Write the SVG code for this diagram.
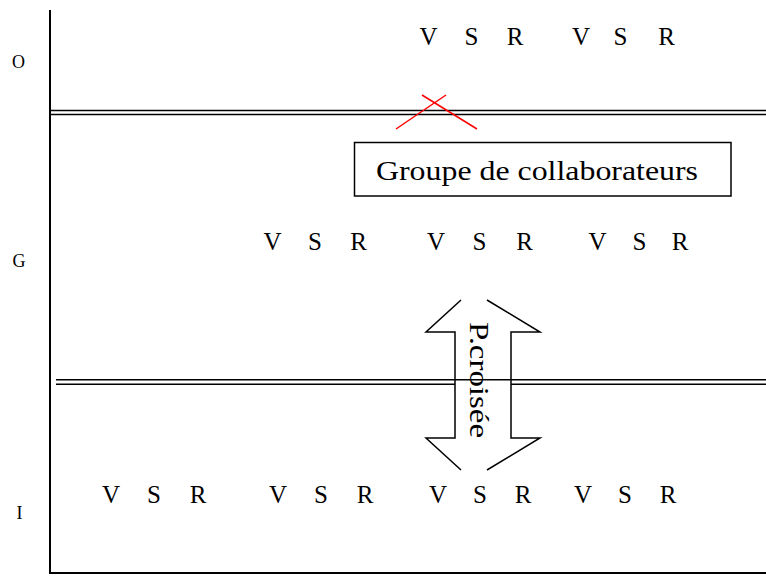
<svg xmlns="http://www.w3.org/2000/svg" width="766" height="576" viewBox="0 0 766 576">
<style>
.ln{stroke:#000;stroke-width:1.5;fill:none}
.ax{stroke:#000;stroke-width:2;fill:none}
.t{font-family:"Liberation Serif","Times New Roman",serif;fill:#000}
.vsr{font-size:25px;text-anchor:middle}
.lvl{font-size:18px;text-anchor:middle}
.big{font-size:28px}
</style>
<rect width="766" height="576" fill="#fff"/>
<g id="connectors">
<path class="ax" d="M50,10 V573 H766"/>
<path class="ln" d="M50,110.5 H766 M50,114.5 H766"/>
<path class="ln" d="M56,379.8 H766 M56,384.3 H455 M511,384.3 H766"/>
<path d="M396,129 L446,95 M422,95 L477,129" stroke="#ff0000" stroke-width="1.5" fill="none"/>
</g>
<g id="levels" class="t lvl">
<text x="18.5" y="68">O</text>
<text x="19" y="267">G</text>
<text x="19.5" y="519">I</text>
</g>
<g id="box">
<rect x="354.5" y="142.5" width="376.5" height="53.5" class="ln"/>
<text class="t big" x="376" y="180" textLength="322" lengthAdjust="spacingAndGlyphs">Groupe de collaborateurs</text>
</g>
<g id="arrow">
<path class="ln" d="M461,300 L426,332 H455 V438 H426 L461,470 M487,300 L540,332 H511 V438 H540 L487,470"/>
<text class="t big" transform="translate(470,322) rotate(90)" x="0" y="0" textLength="116" lengthAdjust="spacingAndGlyphs">P.croisée</text>
</g>
<g id="row-top" class="t vsr">
<text x="428.5" y="45">V</text><text x="471.5" y="45">S</text><text x="515" y="45">R</text>
<text x="581" y="45">V</text><text x="620.5" y="45">S</text><text x="666.5" y="45">R</text>
</g>
<g id="row-mid" class="t vsr">
<text x="272.5" y="250">V</text><text x="315" y="250">S</text><text x="358.5" y="250">R</text>
<text x="436" y="250">V</text><text x="479.5" y="250">S</text><text x="524.5" y="250">R</text>
<text x="597.5" y="250">V</text><text x="639.5" y="250">S</text><text x="680" y="250">R</text>
</g>
<g id="row-bottom" class="t vsr">
<text x="111" y="503">V</text><text x="154" y="503">S</text><text x="198" y="503">R</text>
<text x="278" y="503">V</text><text x="321" y="503">S</text><text x="365" y="503">R</text>
<text x="438" y="503">V</text><text x="480" y="503">S</text><text x="523" y="503">R</text>
<text x="583" y="503">V</text><text x="625" y="503">S</text><text x="668" y="503">R</text>
</g>
</svg>
